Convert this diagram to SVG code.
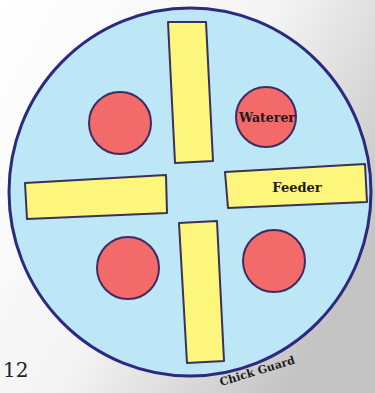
<svg xmlns="http://www.w3.org/2000/svg" width="375" height="393" viewBox="0 0 375 393">
  <defs>
    <linearGradient id="bg" x1="0" y1="0" x2="1" y2="0.6">
      <stop offset="0" stop-color="#ffffff"/>
      <stop offset="0.55" stop-color="#f4f4f4"/>
      <stop offset="1" stop-color="#c4c4c4"/>
    </linearGradient>
  </defs>
  <style>
    .guard { fill: #bde6f6; stroke: #2b2a80; stroke-width: 3; }
    .bar { fill: #fdf67c; stroke: #3a3158; stroke-width: 2; stroke-linejoin: round; }
    .water { fill: #f26a6a; stroke: #3d2b62; stroke-width: 2; }
    .lbl { font-family: "DejaVu Serif", "Liberation Serif", serif; font-weight: bold; fill: #1e1a1a; }
  </style>
  <rect x="0" y="0" width="375" height="393" fill="url(#bg)"/>
  <g id="chick-guard">
    <ellipse class="guard" cx="190" cy="192" rx="181" ry="184"/>
  </g>
  <g id="feeder-top">
    <polygon class="bar" points="168,22 206,22 213,161 175,163"/>
  </g>
  <g id="feeder-left">
    <polygon class="bar" points="25,183 166,175 167,213 27,219"/>
  </g>
  <g id="feeder-right">
    <polygon class="bar" points="225,172 365,164 367,202 228,208"/>
    <text class="lbl" x="297" y="192" font-size="13" text-anchor="middle">Feeder</text>
  </g>
  <g id="feeder-bottom">
    <polygon class="bar" points="179,223 217,221 224,361 187,363"/>
  </g>
  <g id="waterer-tl">
    <circle class="water" cx="120" cy="123" r="31"/>
  </g>
  <g id="waterer-tr">
    <circle class="water" cx="266" cy="117" r="30"/>
    <text class="lbl" x="267" y="122" font-size="12.5" text-anchor="middle">Waterer</text>
  </g>
  <g id="waterer-bl">
    <circle class="water" cx="128" cy="268" r="31"/>
  </g>
  <g id="waterer-br">
    <circle class="water" cx="274" cy="261" r="31"/>
  </g>
  <g id="labels">
    <text class="lbl" x="0" y="0" font-size="11" transform="translate(221,386) rotate(-17)" textLength="78">Chick Guard</text>
    <text x="3" y="377" font-family="DejaVu Serif, serif" font-size="20" fill="#222">12</text>
  </g>
</svg>
